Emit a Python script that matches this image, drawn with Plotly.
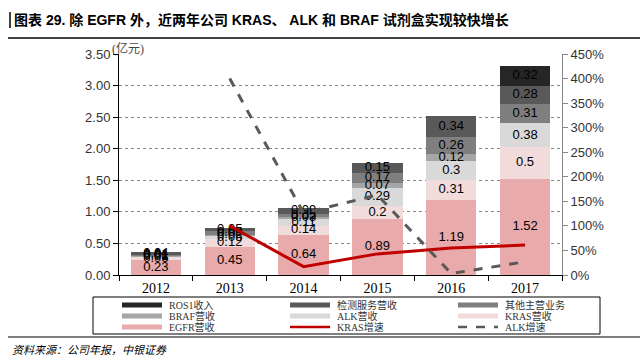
import numpy as np
import plotly.graph_objects as go

years = ["2012", "2013", "2014", "2015", "2016", "2017"]
egfr = [0.23, 0.45, 0.64, 0.89, 1.19, 1.52]
kras = [0.06, 0.12, 0.14, 0.20, 0.31, 0.50]
alk = [0.01, 0.05, 0.11, 0.29, 0.30, 0.38]
braf = [0.01, 0.02, 0.03, 0.07, 0.12, 0.00]
other = [0.01, 0.05, 0.05, 0.17, 0.26, 0.31]
testing = [0.04, 0.05, 0.09, 0.15, 0.34, 0.28]
ros1 = [0.00, 0.00, 0.00, 0.00, 0.00, 0.32]
kras_growth = [None, 100, 17, 43, 55, 61]
alk_growth = [None, 400, 126, 163, 3, 27]

series = [
    ("EGFR营收", egfr, "#e8aaaa"),
    ("KRAS营收", kras, "#f2dbdb"),
    ("ALK营收", alk, "#d9d9d9"),
    ("BRAF营收", braf, "#a6a6a6"),
    ("其他主营业务", other, "#7f7f7f"),
    ("检测服务营收", testing, "#595959"),
    ("ROS1收入", ros1, "#262626"),
]
lines = [
    ("KRAS增速", kras_growth, "#c00000", "solid"),
    ("ALK增速", alk_growth, "#595959", "dash"),
]

# plot-area pixel geometry
L, R, T, B = 119, 562, 54, 275
W, H = R - L, B - T


def xp(px):
    return (px - L) / W


def yp(py):
    return 1 - (py - T) / H


fig = go.Figure()
base = np.zeros(len(years))
lx, ly, lt = [], [], []
for name, vals, color in series:
    v = np.array(vals)
    fig.add_trace(go.Bar(x=years, y=v, name=name, marker_color=color,
                         marker_line_width=0, showlegend=False))
    for i, val in enumerate(v):
        if val > 0:
            lx.append(years[i]); ly.append(base[i] + val / 2); lt.append(f"{val:g}")
    base = base + v

fig.add_trace(go.Scatter(x=lx, y=ly, text=lt, mode="text", showlegend=False,
                         textfont=dict(family="Liberation Sans, Arial", size=13, color="#000"),
                         hoverinfo="skip"))

for name, vals, color, dash in lines:
    fig.add_trace(go.Scatter(x=years, y=vals, name=name, yaxis="y2", showlegend=False,
                             mode="lines", line=dict(color=color, width=3, dash=dash)))

# manual legend (3 columns x 3 rows)
legend_order = [series[6], series[5], series[4], series[3], series[2], series[1], series[0],
                lines[0], lines[1]]
col_x = [122, 290, 458]
row_y = [305, 316, 327]
shapes = [
    dict(type="rect", xref="paper", yref="paper", x0=xp(93), x1=xp(600), y0=yp(297), y1=yp(334),
         line=dict(color="#000", width=1), fillcolor="rgba(0,0,0,0)"),
]
annotations = []
for k, item in enumerate(legend_order):
    cx = col_x[k % 3]
    cy = row_y[k // 3]
    name, color = item[0], item[2]
    if k < 7:
        shapes.append(dict(type="rect", xref="paper", yref="paper", x0=xp(cx), x1=xp(cx + 40),
                           y0=yp(cy - 2.5), y1=yp(cy + 2.5), line=dict(width=0), fillcolor=color))
    else:
        shapes.append(dict(type="line", xref="paper", yref="paper", x0=xp(cx), x1=xp(cx + 40),
                           y0=yp(cy), y1=yp(cy),
                           line=dict(color=color, width=2.5, dash=item[3])))
    annotations.append(dict(text=name, xref="paper", yref="paper", x=xp(cx + 45), y=yp(cy),
                            xanchor="left", yanchor="middle", showarrow=False,
                            font=dict(family="Liberation Serif, Noto Sans CJK SC", size=10,
                                      color="#333")))

annotations += [
    dict(text="<b>图表 29. 除 EGFR 外，近两年公司 KRAS、 ALK 和 BRAF 试剂盒实现较快增长</b>",
         xref="paper", yref="paper", x=xp(12), y=yp(20),
         xanchor="left", yanchor="middle", showarrow=False,
         font=dict(family="Liberation Sans, Noto Sans CJK SC", size=14, color="#000")),
    dict(text="(亿元)", xref="paper", yref="paper", x=xp(110), y=yp(48),
         xanchor="left", yanchor="middle", showarrow=False,
         font=dict(family="Liberation Serif, Noto Sans CJK SC", size=12, color="#444")),
    dict(text="<i>资料来源：公司年报，中银证券</i>", xref="paper", yref="paper",
         x=xp(10), y=yp(349), xanchor="left", yanchor="middle",
         showarrow=False, font=dict(family="Noto Sans CJK SC", size=11, color="#000")),
]
shapes += [
    dict(type="line", xref="paper", yref="paper", x0=xp(8), x1=xp(640),
         y0=yp(38), y1=yp(38), line=dict(color="#000", width=1.5)),
    dict(type="line", xref="paper", yref="paper", x0=xp(8), x1=xp(640),
         y0=yp(337), y1=yp(337), line=dict(color="#000", width=1)),
    dict(type="line", xref="paper", yref="paper", x0=xp(10), x1=xp(10),
         y0=yp(12), y1=yp(28), line=dict(color="#000", width=1.5)),
]

tick_font = dict(family="Liberation Sans, Arial", size=13, color="#333")
fig.update_layout(
    width=640, height=363,
    margin=dict(l=L, r=640 - R, t=T, b=363 - B, autoexpand=False),
    paper_bgcolor="white", plot_bgcolor="white",
    barmode="stack", bargap=0.32,
    font=dict(family="Liberation Serif, Noto Sans CJK SC", size=10, color="#000"),
    xaxis=dict(type="category", showline=True, linecolor="#000", linewidth=1,
               ticks="outside", tickson="boundaries", ticklen=5, tickcolor="#000",
               tickfont=dict(family="Liberation Serif, Times New Roman", size=14, color="#000")),
    yaxis=dict(range=[0, 3.5], dtick=0.5, tickformat=".2f", showline=True, linecolor="#000",
               ticks="outside", ticklen=5, tickcolor="#000", tickfont=tick_font,
               showgrid=True, gridcolor="#888", griddash="dot", gridwidth=1, zeroline=False),
    yaxis2=dict(range=[0, 450], dtick=50, ticksuffix="%", overlaying="y", side="right",
                showline=True, linecolor="#888", ticks="outside", ticklen=5, tickcolor="#888",
                tickfont=tick_font, showgrid=False, zeroline=False),
    showlegend=False,
    annotations=annotations,
    shapes=shapes,
)

fig.write_html("out.html", config={"displayModeBar": False},
               post_script="document.body.style.margin='0';document.body.style.overflow='hidden';")
